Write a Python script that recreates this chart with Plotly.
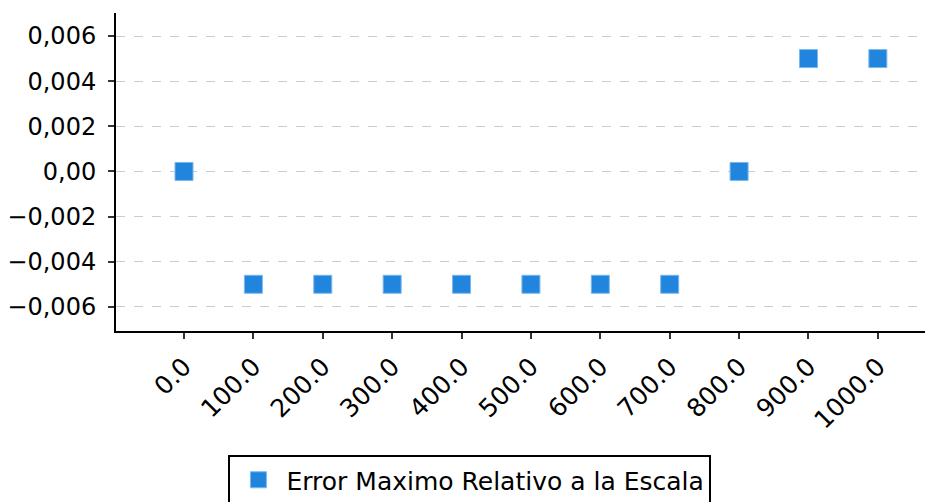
import plotly.graph_objects as go

categories = ["0.0", "100.0", "200.0", "300.0", "400.0", "500.0", "600.0", "700.0", "800.0", "900.0", "1000.0"]
error_values = [0.0, -0.005, -0.005, -0.005, -0.005, -0.005, -0.005, -0.005, 0.0, 0.005, 0.005]
series_name = "Error Maximo Relativo a la Escala"
y_tick_values = [-0.006, -0.004, -0.002, 0.0, 0.002, 0.004, 0.006]
y_tick_labels = ["−0,006", "−0,004", "−0,002", "0,00", "0,002", "0,004", "0,006"]

FONT = "DejaVu Sans"

fig = go.Figure()
fig.add_trace(go.Scatter(
    x=categories, y=error_values, mode="markers", name=series_name,
    marker=dict(symbol="square", size=18, color="#2185de",
                line=dict(width=1, color="#7ab8ec")),
    showlegend=True,
))

fig.update_layout(
    width=933, height=502,
    margin=dict(l=108, r=0, t=5, b=179, autoexpand=False),
    paper_bgcolor="white", plot_bgcolor="white",
    font=dict(family=FONT, size=25, color="black"),
    showlegend=True,
    legend=dict(
        x=0.429, xanchor="center", y=-0.39, yanchor="top",
        orientation="h", itemwidth=46,
        bordercolor="black", borderwidth=2,
        font=dict(family=FONT, size=25, color="black"),
        bgcolor="white",
    ),
    xaxis=dict(
        type="category", range=[-0.98, 10.91], automargin=False,
        showline=True, linecolor="black", linewidth=2,
        ticks="outside", ticklen=6, tickcolor="#333333", tickwidth=2,
        tickangle=-45, showgrid=False, zeroline=False,
        ticklabelstandoff=3,
        tickfont=dict(family=FONT, size=25, color="black"),
    ),
    yaxis=dict(
        range=[-0.00707, 0.00702], automargin=False,
        tickvals=y_tick_values, ticktext=y_tick_labels,
        showline=True, linecolor="black", linewidth=2,
        ticks="outside", ticklen=6, tickcolor="#333333", tickwidth=2,
        ticklabelstandoff=7,
        showgrid=True, gridcolor="#cccccc", griddash="dash", gridwidth=1,
        zeroline=False,
        tickfont=dict(family=FONT, size=24, color="black"),
    ),
)

fig.write_html("out.html")
